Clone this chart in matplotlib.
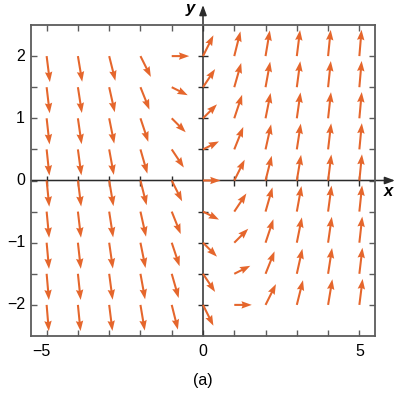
import numpy as np
import matplotlib
matplotlib.use("Agg")
import matplotlib.pyplot as plt
import matplotlib.transforms as mtransforms

plt.rcParams["font.family"] = ["Liberation Sans", "DejaVu Sans"]

# grid of arrow tails
x_vals = [-5, -4, -3, -2, -1, 0, 1, 2, 3, 4, 5]
y_vals = [2.0, 1.5, 1.0, 0.5, 0.0, -0.5, -1.0, -1.5, -2.0]

# slope (rise / run as drawn) of each arrow, rows follow y_vals, columns x_vals
slopes = [
    [-8.0, -6.0, -4.0, -2.0, 0.0, 2.0, 4.0, 6.0, 8.0, 10.0, 12.0],
    [-8.5, -6.5, -4.5, -2.5, -0.5, 1.5, 3.5, 5.5, 7.5, 9.5, 11.5],
    [-9.0, -7.0, -5.0, -3.0, -1.0, 1.0, 3.0, 5.0, 7.0, 9.0, 11.0],
    [-9.5, -7.5, -5.5, -3.5, -1.5, 0.5, 2.5, 4.5, 6.5, 8.5, 10.5],
    [-10.0, -8.0, -6.0, -4.0, -2.0, 0.0, 2.0, 4.0, 6.0, 8.0, 10.0],
    [-10.5, -8.5, -6.5, -4.5, -2.5, -0.5, 1.5, 3.5, 5.5, 7.5, 9.5],
    [-11.0, -9.0, -7.0, -5.0, -3.0, -1.0, 1.0, 3.0, 5.0, 7.0, 9.0],
    [-11.5, -9.5, -7.5, -5.5, -3.5, -1.5, 0.5, 2.5, 4.5, 6.5, 8.5],
    [-12.0, -10.0, -8.0, -6.0, -4.0, -2.0, 0.0, 2.0, 4.0, 6.0, 8.0],
]

x_ticklabels = {-5: "\u22125", 0: "0", 5: "5"}
y_ticklabels = {2: "2", 1: "1", 0: "0", -1: "\u22121", -2: "\u22122"}

ARROW = "#e5662c"
FRAME = "#5c5c5c"
AXIS = "#2b2b2b"

W, H = 405, 393
fig = plt.figure(figsize=(W / 100, H / 100), dpi=100)
ax_l, ax_b, ax_w, ax_h = 31, 57, 344, 311
ax = fig.add_axes([ax_l / W, ax_b / H, ax_w / W, ax_h / H])
xlim = (-5.5, 5.5)
ylim = (-2.5, 2.5)
ax.set_xlim(*xlim)
ax.set_ylim(*ylim)
sx = ax_w / (xlim[1] - xlim[0])  # pixels per unit
sy = ax_h / (ylim[1] - ylim[0])

# arrows: direction from slope, length in pixels grows a bit for steep ones
X, Y = np.meshgrid(x_vals, y_vals)
theta = np.arctan(np.array(slopes))
L = 17.5 + 9 * np.sin(theta) ** 4
U = L * np.cos(theta) / sx
V = L * np.sin(theta) / sy
ax.quiver(X, Y, U, V, angles="xy", scale_units="xy", scale=1, pivot="tail",
          color=ARROW, width=0.006, headwidth=3.6, headlength=5.0,
          headaxislength=4.5, zorder=3)

# frame and ticks
for s in ax.spines.values():
    s.set_color(FRAME)
    s.set_linewidth(1.3)
ax.set_xticks(x_vals)
ax.set_yticks(np.arange(-2, 2.01, 0.5))
ax.tick_params(direction="in", length=4, width=1, color=FRAME,
               top=True, right=True, labelbottom=False, labelleft=False)

# axes through origin with arrowheads
bx = mtransforms.blended_transform_factory(ax.transData, ax.transAxes)
by = mtransforms.blended_transform_factory(ax.transAxes, ax.transData)
ax.annotate("", xy=(0, 1 + 20 / ax_h), xycoords=bx, xytext=(0, 0), textcoords=bx,
            arrowprops=dict(arrowstyle="-|>,head_length=0.6,head_width=0.22",
                            color=AXIS, lw=1.1, shrinkA=0, shrinkB=0), zorder=2)
ax.annotate("", xy=(1 + 20 / ax_w, 0), xycoords=by, xytext=(0, 0), textcoords=by,
            arrowprops=dict(arrowstyle="-|>,head_length=0.6,head_width=0.22",
                            color=AXIS, lw=1.1, shrinkA=0, shrinkB=0), zorder=2)
ax.plot([x for x in x_vals if x != 0], [0] * 10, ls="none", marker="|",
        ms=7, mew=1, color=AXIS, zorder=2)
yt = [v for v in np.arange(-2, 2.01, 0.5) if v != 0]
ax.plot([0] * len(yt), yt, ls="none", marker="_", ms=7, mew=1, color=AXIS, zorder=2)

ax.text(-0.42, 1 + 16 / ax_h, "y", transform=bx, ha="center", va="center",
        fontsize=12, fontweight="bold", style="italic")
ax.text(1 + 13 / ax_w, -0.17, "x", transform=by, ha="center", va="center",
        fontsize=12, fontweight="bold", style="italic")

# tick labels
for xv, lab in x_ticklabels.items():
    if lab.startswith("\u2212"):
        ax.text(xv + 4 / sx, -16 / ax_h, lab, transform=bx, ha="right",
                va="center", fontsize=11.5)
    else:
        ax.text(xv, -16 / ax_h, lab, transform=bx, ha="center", va="center",
                fontsize=11.5)
for yv, lab in y_ticklabels.items():
    ax.text(-6 / ax_w, yv, lab, transform=by, ha="right", va="center",
            fontsize=11.5)

ax.text(0, -45 / ax_h, "(a)", transform=bx, ha="center", va="center",
        fontsize=11.5)

fig.savefig("out.png", dpi=100)
